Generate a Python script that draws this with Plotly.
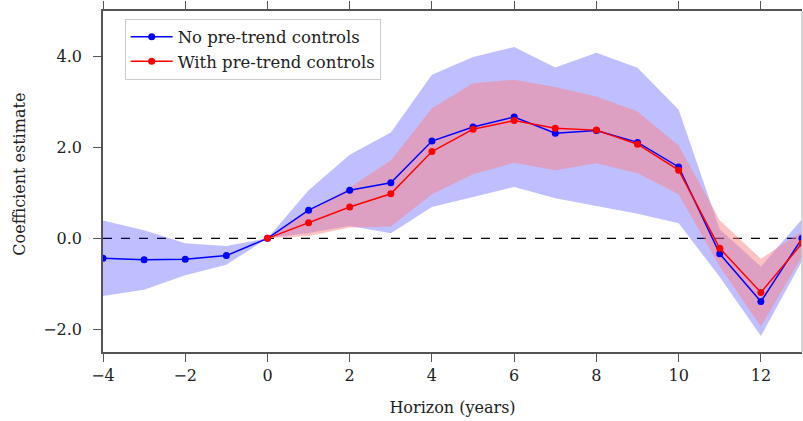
import plotly.graph_objects as go

# Event-study coefficients by horizon (years)
horizon_no = [-4, -3, -2, -1, 0, 1, 2, 3, 4, 5, 6, 7, 8, 9, 10, 11, 12, 13]
coef_no = [-0.44, -0.47, -0.46, -0.38, 0.0, 0.62, 1.06, 1.22, 2.14, 2.45, 2.67,
           2.31, 2.37, 2.11, 1.57, -0.34, -1.39, 0.0]
upper_no = [0.39, 0.18, -0.11, -0.17, 0.0, 1.06, 1.84, 2.33, 3.60, 3.99, 4.21,
            3.76, 4.08, 3.75, 2.83, 0.20, -0.62, 0.42]
lower_no = [-1.27, -1.13, -0.81, -0.58, 0.0, 0.12, 0.27, 0.11, 0.69, 0.91, 1.13,
            0.88, 0.71, 0.54, 0.33, -0.85, -2.15, -0.50]

horizon_with = [0, 1, 2, 3, 4, 5, 6, 7, 8, 9, 10, 11, 12, 13]
coef_with = [0.0, 0.34, 0.69, 0.98, 1.91, 2.40, 2.59, 2.42, 2.38, 2.07, 1.50,
             -0.22, -1.19, -0.11]
upper_with = [0.0, 0.60, 1.12, 1.71, 2.86, 3.41, 3.49, 3.33, 3.12, 2.79, 2.04,
              0.40, -0.45, 0.15]
lower_with = [0.0, 0.05, 0.24, 0.26, 0.97, 1.41, 1.66, 1.50, 1.65, 1.43, 0.97,
              -0.62, -1.94, -0.40]

x_ticks = [-4, -2, 0, 2, 4, 6, 8, 10, 12]
y_ticks = [-2.0, 0.0, 2.0, 4.0]

FONT = "DejaVu Serif"
FONT_SIZE = 16
TEXT_COLOR = "#222222"
AXIS_COLOR = "#555555"


def band(xs, hi, lo, color):
    return go.Scatter(
        x=list(xs) + list(xs)[::-1],
        y=list(hi) + list(lo)[::-1],
        fill="toself",
        fillcolor=color,
        line=dict(width=0),
        mode="lines",
        hoverinfo="skip",
        showlegend=False,
    )


fig = go.Figure()
fig.add_trace(band(horizon_no, upper_no, lower_no, "rgba(0,0,255,0.25)"))
fig.add_trace(band(horizon_with, upper_with, lower_with, "rgba(255,125,125,0.47)"))

fig.add_trace(go.Scatter(
    x=horizon_no, y=coef_no, mode="lines+markers",
    name="No pre-trend controls",
    line=dict(color="rgb(0,0,255)", width=1.5),
    marker=dict(color="rgb(0,0,255)", size=7),
))
fig.add_trace(go.Scatter(
    x=horizon_with, y=coef_with, mode="lines+markers",
    name="With pre-trend controls",
    line=dict(color="rgb(255,0,0)", width=1.5),
    marker=dict(color="rgb(255,0,0)", size=7),
))

# zero reference line
fig.add_shape(type="line", xref="paper", x0=0, x1=1, yref="y", y0=0, y1=0,
              line=dict(color="black", width=1.3, dash="dash"), layer="below")
# light right spine
fig.add_shape(type="line", xref="paper", x0=1, x1=1, yref="paper", y0=0, y1=1,
              line=dict(color="#c8c8c8", width=1.5))

fig.update_layout(
    width=803, height=421,
    margin=dict(l=103, r=1, t=8, b=69),
    paper_bgcolor="white", plot_bgcolor="white",
    font=dict(family=FONT, size=FONT_SIZE, color=TEXT_COLOR),
    showlegend=True,
    legend=dict(
        x=0.031, y=0.978, xanchor="left", yanchor="top",
        bgcolor="white", bordercolor="#cccccc", borderwidth=1,
        font=dict(family=FONT, size=16.5, color=TEXT_COLOR),
        itemwidth=42,
        tracegroupgap=5,
    ),
    xaxis=dict(
        range=[-4, 13], tickvals=x_ticks,
        showgrid=False, zeroline=False,
        showline=True, linecolor=AXIS_COLOR, linewidth=1.5,
        mirror="ticks",
        ticks="outside", ticklen=8, tickcolor=AXIS_COLOR, tickwidth=1,
        title=dict(text="Horizon (years)", standoff=18,
                   font=dict(family=FONT, size=FONT_SIZE)),
    ),
    yaxis=dict(
        range=[-2.5, 5.0], tickvals=y_ticks, tickformat=".1f",
        showgrid=False, zeroline=False,
        showline=True, linecolor=AXIS_COLOR, linewidth=1.5,
        ticks="outside", ticklen=8, tickcolor=AXIS_COLOR, tickwidth=1,
        ticklabelstandoff=8,
    ),
    annotations=[dict(
        text="Coefficient estimate", textangle=-90,
        xref="paper", x=0, xshift=-83, xanchor="center",
        yref="paper", y=0.52, yanchor="middle",
        showarrow=False, font=dict(family=FONT, size=FONT_SIZE, color=TEXT_COLOR),
    )],
)

fig.write_html("out.html")
